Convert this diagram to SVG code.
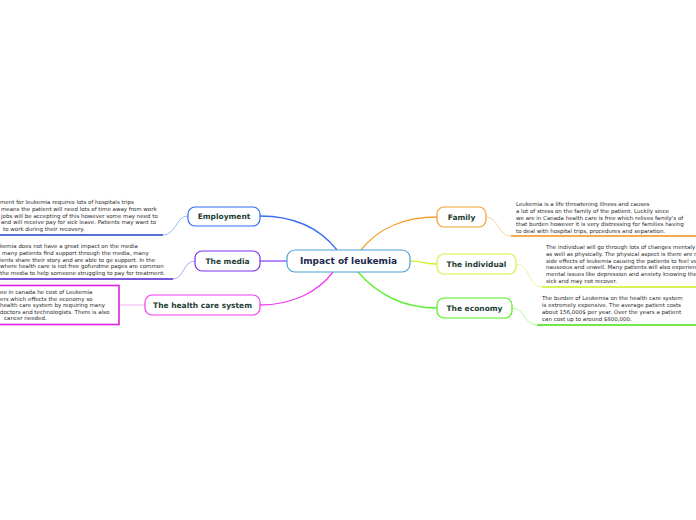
<svg xmlns="http://www.w3.org/2000/svg" width="696" height="520" viewBox="0 0 696 520">
<style>
.node{fill:#ffffff;stroke-width:1.2}
.lbl{font-family:"DejaVu Sans",Verdana,sans-serif;font-weight:bold;font-size:7.5px;fill:#1d3d33;text-anchor:middle;dominant-baseline:central}
.ctr{font-family:"DejaVu Sans",Verdana,sans-serif;font-weight:bold;font-size:9px;fill:#1b2a4e;text-anchor:middle;dominant-baseline:central}
.txt{font-family:"DejaVu Sans",Verdana,sans-serif;font-size:5.5px;fill:#2a2a2a}
.con{fill:none;stroke-width:1.3}
.sub{fill:none;stroke-width:0.8}
.ul{fill:none;stroke-width:1.6}
</style>
<rect width="696" height="520" fill="#ffffff"/>
<g id="connectors">
<path class="con" stroke="#3a6ef0" d="M337,250 C318,226 292,216 260,216"/>
<path class="con" stroke="#8a4cf5" d="M287,261 L260,261"/>
<path class="con" stroke="#f040f0" d="M333,272 C318,292 292,305 260,305"/>
<path class="con" stroke="#f5a030" d="M361,250 C378,228 405,217 437,217"/>
<path class="con" stroke="#d8f040" d="M410,261 C422,261 425,264 437,264"/>
<path class="con" stroke="#5af030" d="M358,272 C378,295 405,308 437,308"/>
<path class="sub" stroke="#8aa8f8" d="M188,216 C176,216 176,235 163,235"/>
<path class="sub" stroke="#a68af8" d="M195,261 C183,261 184,279 173,279"/>
<path class="sub" stroke="#f4a0f4" d="M145,305 L119,305"/>
<path class="sub" stroke="#f8c888" d="M486,217 C498,217 498,236 511,236"/>
<path class="sub" stroke="#e4f48a" d="M516,264 C530,264 528,287 542,287"/>
<path class="sub" stroke="#a0f488" d="M512,308 C525,308 524,325 537,325"/>
<path class="ul" stroke="#1f40c8" d="M0,235 L163,235"/>
<path class="ul" stroke="#4a20d0" d="M0,279 L173,279"/>
<path class="ul" stroke="#f09010" d="M511,236 L696,236"/>
<path class="ul" stroke="#c8f020" d="M542,287 L696,287"/>
<path class="ul" stroke="#40e010" d="M537,325 L696,325"/>
</g>
<g id="center">
<rect class="node" x="287" y="250" width="123" height="22" rx="8" stroke="#4a9fd8"/>
<text class="ctr" x="348.5" y="261">Impact of leukemia</text>
</g>
<g id="employment">
<rect class="node" x="188" y="207" width="72" height="19" rx="7" stroke="#2f6cf5"/>
<text class="lbl" x="224" y="216.5">Employment</text>
<g class="txt">
<text x="0" y="204">ment for leukemia requires lots of hospitals trips</text>
<text x="1" y="211">means the patient will need lots of time away from work</text>
<text x="1" y="217.5">jobs will be accepting of this however some may need to</text>
<text x="1" y="224">and will receive pay for sick leave. Patients may want to</text>
<text x="3" y="231">to work during their recovery.</text>
</g>
</g>
<g id="media">
<rect class="node" x="195" y="251" width="65" height="20" rx="7" stroke="#7b35ea"/>
<text class="lbl" x="227.5" y="261">The media</text>
<g class="txt">
<text x="0" y="248">kemia does not have a great impact on the media</text>
<text x="2" y="255">many patients find support through the media, many</text>
<text x="0" y="261.5">ients share their story and are able to ge support. In the</text>
<text x="0" y="268">where health care is not free gofundme pages are common</text>
<text x="0" y="275">the media to help someone struggling to pay for treatment.</text>
</g>
</g>
<g id="health">
<rect class="node" x="145" y="295" width="115" height="20" rx="7" stroke="#f03cf0"/>
<text class="lbl" x="202.5" y="305">The health care system</text>
<rect x="-10" y="285.5" width="129" height="39" fill="#ffffff" stroke="#e020e0" stroke-width="1.6"/>
<g class="txt">
<text x="0" y="294">ee in canada he cost of Leukemia</text>
<text x="0" y="300.5">ers which effects the economy so</text>
<text x="0" y="307">health care system by requiring many</text>
<text x="0" y="313.5">doctors and technologists. There is also</text>
<text x="4" y="320">cancer needed.</text>
</g>
</g>
<g id="family">
<rect class="node" x="437" y="207" width="49" height="20" rx="7" stroke="#f5a030"/>
<text class="lbl" x="461.5" y="217">Family</text>
<g class="txt">
<text x="516" y="206">Leukemia is a life threatening illness and causes</text>
<text x="516" y="213">a lot of stress on the family of the patient. Luckily since</text>
<text x="516" y="219.5">we are in Canada health care is free which relives family's of</text>
<text x="516" y="226">that burden however it is very distressing for families having</text>
<text x="516" y="233">to deal with hospital trips, procedures and separation.</text>
</g>
</g>
<g id="individual">
<rect class="node" x="437" y="254" width="79" height="20" rx="7" stroke="#d8f040"/>
<text class="lbl" x="476.5" y="264">The individual</text>
<g class="txt">
<text x="546" y="249">The individual will go through lots of changes mentaly</text>
<text x="546" y="256">as well as physically. The physical aspect is there are m</text>
<text x="546" y="262.5">side effects of leukemia causing the patients to feel ve</text>
<text x="546" y="269">nauseous and unwell. Many patients will also experien</text>
<text x="546" y="276">mental issues like depression and anxiety knowing the</text>
<text x="546" y="282.5">sick and may not recover.</text>
</g>
</g>
<g id="economy">
<rect class="node" x="437" y="298" width="75" height="20" rx="7" stroke="#50f020"/>
<text class="lbl" x="474.5" y="308">The economy</text>
<g class="txt">
<text x="542" y="300">The burden of Leukemia on the health care system</text>
<text x="542" y="307">is extremely expensive. The average patient costs</text>
<text x="542" y="313.5">about 156,000$ per year. Over the years a patient</text>
<text x="542" y="320.5">can cost up to around $800,000.</text>
</g>
</g>
</svg>
